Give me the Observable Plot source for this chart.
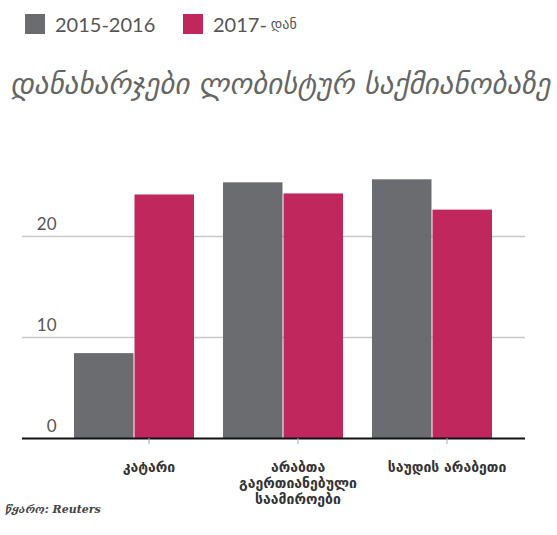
<!DOCTYPE html>
<html><head><meta charset="utf-8">
<script src="https://cdn.jsdelivr.net/npm/d3@7"></script>
<script src="https://cdn.jsdelivr.net/npm/@observablehq/plot@0.6"></script>
<style>
body{margin:0;background:#fff;width:557px;height:535px;position:relative;overflow:hidden;font-family:Lato,"DejaVu Sans",sans-serif}
.leg{position:absolute;top:12px;display:flex;align-items:center;font-size:20px;color:#555;white-space:nowrap}
.leg .sw{width:20px;height:20px;margin-right:10px}
.leg .ka{font-family:"DejaVu Sans";font-size:14px;margin-left:4px}
#title{position:absolute;left:10px;top:67px;font-family:"DejaVu Sans";font-style:italic;font-size:29px;color:#666;white-space:nowrap}
#chart{position:absolute;left:0;top:130px}
#caption{position:absolute;left:5px;top:503px;font-family:"DejaVu Serif";font-style:italic;font-weight:bold;font-size:11px;color:#444;white-space:nowrap}
</style></head><body>
<div id="legend"></div>
<div id="title"></div>
<div id="chart"></div>
<div id="caption"></div>
<script>
const countries = ["კატარი", "არაბთა გაერთიანებული საამიროები", "საუდის არაბეთი"];
const countryLabels = ["კატარი", "არაბთა\nგაერთიანებული\nსაამიროები", "საუდის არაბეთი"];
const seriesNames = ["2015-2016", "2017-"];
const seriesSuffix = ["", "დან"];
const seriesColors = ["#6a6c6f", "#c0275c"];
const v2015 = [8.4, 25.3, 25.6];
const v2017 = [24.1, 24.2, 22.6];
const yTicks = [0, 10, 20];
const titleText = "დანახარჯები ლობისტურ საქმიანობაზე";
const captionText = "წყარო: Reuters";

document.getElementById("title").textContent = titleText;
document.getElementById("caption").textContent = captionText;
const legendLefts = [25, 183];
const legend = document.getElementById("legend");
seriesNames.forEach((s, i) => {
  const item = document.createElement("div");
  item.className = "leg";
  item.style.left = legendLefts[i] + "px";
  item.innerHTML = `<span class="sw" style="background:${seriesColors[i]}"></span><span>${s}</span>` +
    (seriesSuffix[i] ? `<span class="ka">${seriesSuffix[i]}</span>` : "");
  legend.appendChild(item);
});

const data = countries.flatMap((c, i) => [
  {country: c, series: seriesNames[0], value: v2015[i]},
  {country: c, series: seriesNames[1], value: v2017[i]}
]);

const chart = Plot.plot({
  width: 557, height: 390,
  marginLeft: 22, marginRight: 32, marginTop: 20, marginBottom: 82,
  style: {background: "transparent"},
  x: {domain: countries, paddingInner: 0.193, paddingOuter: 0.2733, align: 0.61, label: null},
  y: {domain: [0, 28.5], label: null},
  marks: [
    Plot.gridY(yTicks.filter(d => d > 0), {stroke: "#c8c8c8", strokeOpacity: 1, strokeWidth: 1.5}),
    Plot.barY(data.filter(d => d.series === seriesNames[0]), {x: "country", y: "value", fill: seriesColors[0], insetRight: 60.5}),
    Plot.barY(data.filter(d => d.series === seriesNames[1]), {x: "country", y: "value", fill: seriesColors[1], insetLeft: 60.5}),
    Plot.ruleY([0], {stroke: "#111", strokeWidth: 2}),
    Plot.axisY(yTicks, {anchor: "left", tickSize: 0, textAnchor: "end", dx: 43, dy: -12, fontSize: 17, fill: "#555", fontFamily: "Lato"}),
    Plot.axisX({anchor: "bottom", tickSize: 6, tickPadding: 16, dx: 14.5, stroke: "#aaa", fill: "#333",
      fontSize: 14, fontWeight: "bold", fontFamily: "DejaVu Sans", lineHeight: 1.15,
      tickFormat: d => countryLabels[countries.indexOf(d)]})
  ]
});
document.getElementById("chart").appendChild(chart);
</script>
</body></html>
